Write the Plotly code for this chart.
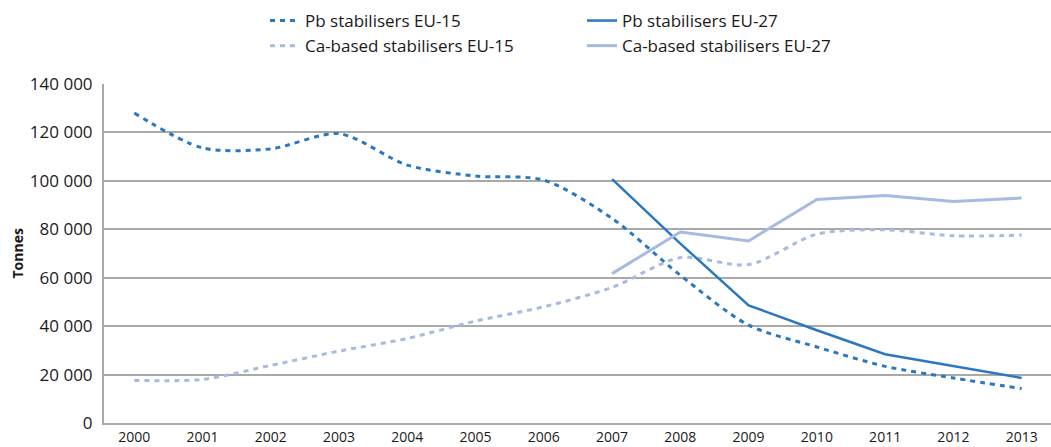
import plotly.graph_objects as go

years = list(range(2000, 2014))
years_eu27 = list(range(2007, 2014))

pb_eu15 = [128000, 113600, 113200, 119500, 106500, 102000, 100300,
           84500, 61000, 40400, 31400, 23400, 18600, 14200]
ca_eu15 = [17600, 18000, 23800, 29700, 34900, 42100, 48000,
           56000, 68300, 65400, 78000, 79800, 77300, 77600]
pb_eu27 = [100700, 74100, 48600, 38300, 28400, 23500, 18600]
ca_eu27 = [61700, 78900, 75200, 92300, 94000, 91500, 92900]

y_ticks = [0, 20000, 40000, 60000, 80000, 100000, 120000, 140000]
y_tick_text = ["0", "20 000", "40 000", "60 000", "80 000", "100 000", "120 000", "140 000"]

DARK = "#2b78c0"
LIGHT = "#a7bbe0"
FONT = "Open Sans"
TEXT = "#1a1a1a"

fig = go.Figure()
fig.add_trace(go.Scatter(x=years, y=pb_eu15, name="Pb stabilisers EU-15", mode="lines",
                         line=dict(color=DARK, width=3, dash="5px,5px", shape="spline", smoothing=0.8),
                         legend="legend"))
fig.add_trace(go.Scatter(x=years, y=ca_eu15, name="Ca-based stabilisers EU-15", mode="lines",
                         line=dict(color=LIGHT, width=3, dash="5px,5px", shape="spline", smoothing=0.8),
                         legend="legend"))
fig.add_trace(go.Scatter(x=years_eu27, y=pb_eu27, name="Pb stabilisers EU-27", mode="lines",
                         line=dict(color=DARK, width=2.5), legend="legend2"))
fig.add_trace(go.Scatter(x=years_eu27, y=ca_eu27, name="Ca-based stabilisers EU-27", mode="lines",
                         line=dict(color=LIGHT, width=3), legend="legend2"))

legend_common = dict(
    xref="container", yref="container", xanchor="left", yanchor="top",
    orientation="v", font=dict(family=FONT, size=17, color=TEXT),
    bgcolor="rgba(0,0,0,0)", tracegroupgap=0, itemwidth=30,
)

fig.update_layout(
    width=1051, height=447,
    margin=dict(l=104, r=0, t=84, b=24, autoexpand=False),
    paper_bgcolor="white", plot_bgcolor="white",
    font=dict(family=FONT, size=16, color=TEXT),
    showlegend=True,
    legend=dict(x=265 / 1051, y=1 - 3 / 447, **legend_common),
    legend2=dict(x=582 / 1051, y=1 - 3 / 447, **legend_common),
    xaxis=dict(
        range=[1999.556, 2013.43], tickmode="array", tickvals=years,
        ticktext=[str(y) for y in years], showgrid=False, zeroline=False,
        showline=True, linecolor="#a9a9a9", linewidth=2, ticks="",
        tickfont=dict(family=FONT, size=14, color=TEXT), automargin=False,
    ),
    yaxis=dict(
        range=[0, 140000], tickmode="array", tickvals=y_ticks, ticktext=y_tick_text,
        showgrid=True, gridcolor="#a9a9a9", gridwidth=1.5, zeroline=False,
        showline=True, linecolor="#a9a9a9", linewidth=2, ticks="",
        ticklabelstandoff=6,
        tickfont=dict(family=FONT, size=17, color=TEXT), automargin=False,
    ),
    annotations=[dict(
        text="<b>Tonnes</b>", xref="paper", yref="paper", x=-87 / 947, y=0.5,
        xanchor="center", yanchor="middle", textangle=-90, showarrow=False,
        font=dict(family=FONT, size=14, color=TEXT),
    )],
)

fig.write_html("out.html")
